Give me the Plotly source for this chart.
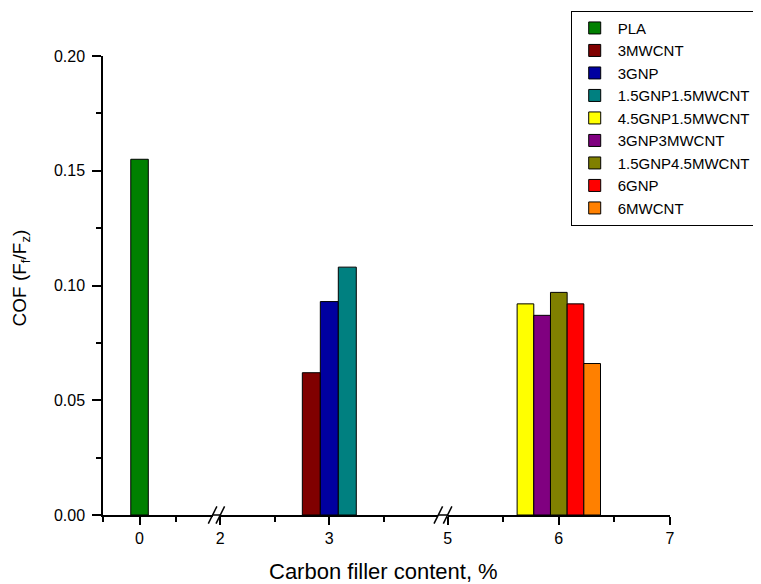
import plotly.graph_objects as go

# ---- data ----
names = ["PLA", "3MWCNT", "3GNP", "1.5GNP1.5MWCNT", "4.5GNP1.5MWCNT",
         "3GNP3MWCNT", "1.5GNP4.5MWCNT", "6GNP", "6MWCNT"]
content = [0, 3, 3, 3, 6, 6, 6, 6, 6]
cof = [0.155, 0.062, 0.093, 0.108, 0.092, 0.087, 0.097, 0.092, 0.066]
colors = ["#008000", "#800000", "#0000A0", "#008080", "#FFFF00",
          "#800080", "#808000", "#FF0000", "#FF8000"]

y_ticks = [0.0, 0.05, 0.10, 0.15, 0.20]

# broken x axis: (range, domain, major ticks, minor ticks, axis id, bar width)
segments = [
    {"range": [-0.5, 1], "domain": [0.0, 0.1933], "major": [0], "minor": [-0.5, 0.5], "ax": "x", "w": 0.24},
    {"range": [2, 4], "domain": [0.2069, 0.5914], "major": [2, 3], "minor": [2.5, 3.5], "ax": "x2", "w": 0.165},
    {"range": [5, 7], "domain": [0.6078, 1.0], "major": [5, 6, 7], "minor": [5.5, 6.5], "ax": "x3", "w": 0.15},
]

FONT = "Arial, Liberation Sans, sans-serif"

def seg_of(v):
    for s in segments:
        if s["range"][0] <= v <= s["range"][1]:
            return s

fig = go.Figure()
groups = {}
for i, c in enumerate(content):
    groups.setdefault(c, []).append(i)

for i, (n, c, v, col) in enumerate(zip(names, content, cof, colors)):
    s = seg_of(c)
    members = groups[c]
    k = members.index(i)
    w = s["w"]
    off = -len(members) * w / 2 + k * w
    fig.add_trace(go.Bar(
        x=[c], y=[v], name=n, width=w, offset=off,
        marker=dict(color=col, line=dict(color="black", width=1)),
        xaxis=s["ax"], yaxis="y",
    ))

# page body has an 8px margin, so the figure is 8px smaller than the window
layout = dict(
    width=753, height=576,
    margin=dict(l=95, r=91, t=48, b=69, autoexpand=False),
    paper_bgcolor="white", plot_bgcolor="white",
    barmode="overlay",
    font=dict(family=FONT, size=16, color="black"),
    showlegend=True,
    legend=dict(x=0.8249, y=1.0987, xanchor="left", yanchor="top",
                bordercolor="black", borderwidth=1, bgcolor="white",
                font=dict(family=FONT, size=15, color="black"),
                itemwidth=36, tracegroupgap=0),
    yaxis=dict(range=[0, 0.2], tickvals=y_ticks, tickformat=".2f",
               ticks="outside", ticklen=9, tickwidth=1.5, tickcolor="black",
               minor=dict(dtick=0.025, ticks="outside", ticklen=5, tickwidth=1.5, tickcolor="black"),
               showline=True, linecolor="black", linewidth=1.5,
               showgrid=False, zeroline=False, ticklabelstandoff=4,
               tickfont=dict(size=16)),
)
for s in segments:
    key = "xaxis" if s["ax"] == "x" else "xaxis" + s["ax"][1:]
    layout[key] = dict(
        domain=s["domain"], range=s["range"], anchor="y",
        tickmode="array", tickvals=s["major"], ticktext=[str(t) for t in s["major"]],
        ticks="outside", ticklen=8, tickwidth=1.5, tickcolor="black",
        minor=dict(tickmode="array", tickvals=s["minor"], ticks="outside", ticklen=5,
                   tickwidth=1.5, tickcolor="black"),
        showline=True, linecolor="black", linewidth=1.5,
        showgrid=False, zeroline=False, tickfont=dict(size=16),
    )
fig.update_layout(**layout)

# axis break marks
shapes = []
for a, b in zip(segments[:-1], segments[1:]):
    x_end, x_start = a["domain"][1], b["domain"][0]
    shapes.append(dict(type="line", xref="paper", yref="paper", x0=x_end, x1=x_start, y0=0, y1=0,
                       line=dict(color="black", width=1.5)))
    for xa in (x_end, x_start):
        shapes.append(dict(type="line", xref="paper", yref="paper",
                           xsizemode="pixel", ysizemode="pixel", xanchor=xa, yanchor=0,
                           x0=-4.3, x1=4.3, y0=-8.7, y1=8.7,
                           line=dict(color="black", width=1.5)))
fig.update_layout(shapes=shapes)

fig.add_annotation(text="Carbon filler content, %", xref="paper", yref="paper",
                   x=0.494, y=-0.1222, xanchor="center", yanchor="middle", borderpad=0,
                   showarrow=False, font=dict(family=FONT, size=22, color="black"))
fig.add_annotation(text="COF (F<sub>f</sub>/F<sub>z</sub>)", xref="paper", yref="paper",
                   x=-0.144, y=0.516, xanchor="center", yanchor="middle", textangle=-90,
                   showarrow=False, font=dict(family=FONT, size=19, color="black"))

fig.write_html("out.html")
